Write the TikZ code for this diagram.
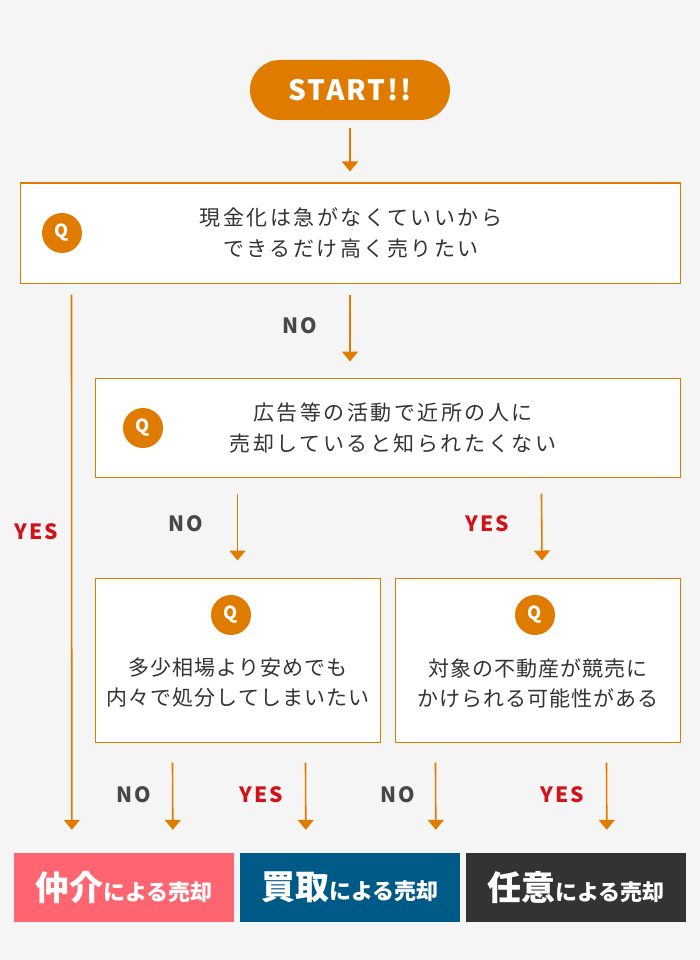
\documentclass[tikz,border=0pt]{standalone}
\usepackage{fontspec}
\setmainfont{Noto Sans CJK JP}
\newfontfamily\qfont[LetterSpace=12]{Noto Sans CJK JP}
\newfontfamily\qfontsmall[LetterSpace=5]{Noto Sans CJK JP}
\newfontfamily\labelfont[LetterSpace=9]{Noto Sans CJK JP}
\newfontfamily\startfont[LetterSpace=7]{Noto Sans CJK JP}
\usetikzlibrary{arrows.meta}

\definecolor{qorange}{HTML}{DF7C00}
\definecolor{bggray}{HTML}{F5F5F5}
\definecolor{textgray}{HTML}{333333}
\definecolor{yesred}{HTML}{D0121B}
\definecolor{agentpink}{HTML}{FF6471}
\definecolor{buyblue}{HTML}{005A87}
\definecolor{saledark}{HTML}{333333}

\begin{document}
\begin{tikzpicture}[x=1pt, y=-1pt,
    startbox/.style={fill=qorange, rounded corners=30pt, minimum width=200pt, minimum height=60pt,
        text=white, font=\startfont\fontsize{28}{28}\selectfont\bfseries},
    qbox/.style={draw=qorange, line width=1pt, fill=white, inner sep=0pt},
    qmark/.style={circle, fill=qorange, minimum size=40pt, inner sep=0pt,
        text=white, font=\fontsize{18}{18}\selectfont\bfseries},
    qtext/.style={align=center, text=textgray, font=\qfont\fontsize{21}{31}\selectfont},
    qtextsmall/.style={align=center, text=textgray, font=\qfontsmall\fontsize{21}{30}\selectfont},
    arr/.style={draw=qorange, line width=1.6pt, -{Triangle[width=16pt, length=10pt]}},
    nolabel/.style={text=textgray!90, font=\labelfont\fontsize{21}{21}\selectfont\bfseries},
    yeslabel/.style={text=yesred, font=\labelfont\fontsize{21}{21}\selectfont\bfseries},
    result/.style={minimum width=220pt, minimum height=69pt, inner sep=0pt, text=white,
        font=\fontsize{22}{22}\selectfont\bfseries}]

    % Background
    \fill[bggray] (0,0) rectangle (700,960);

    % Draw nodes
    \node[startbox] (start) at (350,90) {START!!};

    \node[qbox, minimum width=660pt, minimum height=100pt] (box1) at (350,233) {};
    \node[qmark] (q1) at (62,233) {Q};
    \node[qtext] (t1) at (351,233) {現金化は急がなくていいから\\できるだけ高く売りたい};

    \node[qbox, minimum width=585pt, minimum height=99pt] (box2) at (387.5,427.5) {};
    \node[qmark] (q2) at (143,428) {Q};
    \node[qtext] (t2) at (393,428) {広告等の活動で近所の人に\\売却していると知られたくない};

    \node[qbox, minimum width=285pt, minimum height=164pt] (box3) at (237.5,660) {};
    \node[qmark] (q3) at (231,615) {Q};
    \node[qtextsmall] (t3) at (238,683) {多少相場より安めでも\\内々で処分してしまいたい};

    \node[qbox, minimum width=285pt, minimum height=164pt] (box4) at (537.5,660) {};
    \node[qmark] (q4) at (535,615) {Q};
    \node[qtextsmall] (t4) at (538,683) {対象の不動産が競売に\\かけられる可能性がある};

    \node[result, fill=agentpink] (resA) at (124,887.5) {{\fontsize{34}{34}\selectfont 仲介}による売却};
    \node[result, fill=buyblue] (resB) at (350,887.5) {{\fontsize{34}{34}\selectfont 買取}による売却};
    \node[result, fill=saledark] (resC) at (576,887.5) {{\fontsize{34}{34}\selectfont 任意}による売却};

    % Draw connections
    \draw[arr] ([yshift=-8pt]start.south) -- ([yshift=11pt]box1.north);
    \draw[arr] ([shift={(52pt,-11pt)}]box1.south west) -- ([shift={(58pt,23pt)}]resA.north west);
    \draw[arr] ([yshift=-11pt]box1.south) -- ([xshift=-37.5pt,yshift=16pt]box2.north);
    \draw[arr] ([shift={(143pt,-16pt)}]box2.south west) -- ([yshift=17pt]box3.north);
    \draw[arr] ([shift={(447pt,-16pt)}]box2.south west) -- ([xshift=4.5pt,yshift=17pt]box4.north);
    \draw[arr] ([shift={(78pt,-20pt)}]box3.south west) -- ([shift={(159pt,23pt)}]resA.north west);
    \draw[arr] ([shift={(211pt,-20pt)}]box3.south west) -- ([shift={(66pt,23pt)}]resB.north west);
    \draw[arr] ([shift={(41pt,-20pt)}]box4.south west) -- ([shift={(196pt,23pt)}]resB.north west);
    \draw[arr] ([shift={(212pt,-20pt)}]box4.south west) -- ([shift={(141pt,23pt)}]resC.north west);

    % Labels
    \node[yeslabel] (yes1) at (36,532) {YES};
    \node[nolabel] (no1) at (300,326) {NO};
    \node[nolabel] (no2) at (186,524) {NO};
    \node[yeslabel] (yes2) at (487,524) {YES};
    \node[nolabel] (no3) at (134,795) {NO};
    \node[yeslabel] (yes3) at (261,795) {YES};
    \node[nolabel] (no4) at (398,795) {NO};
    \node[yeslabel] (yes4) at (562,795) {YES};
\end{tikzpicture}
\end{document}
